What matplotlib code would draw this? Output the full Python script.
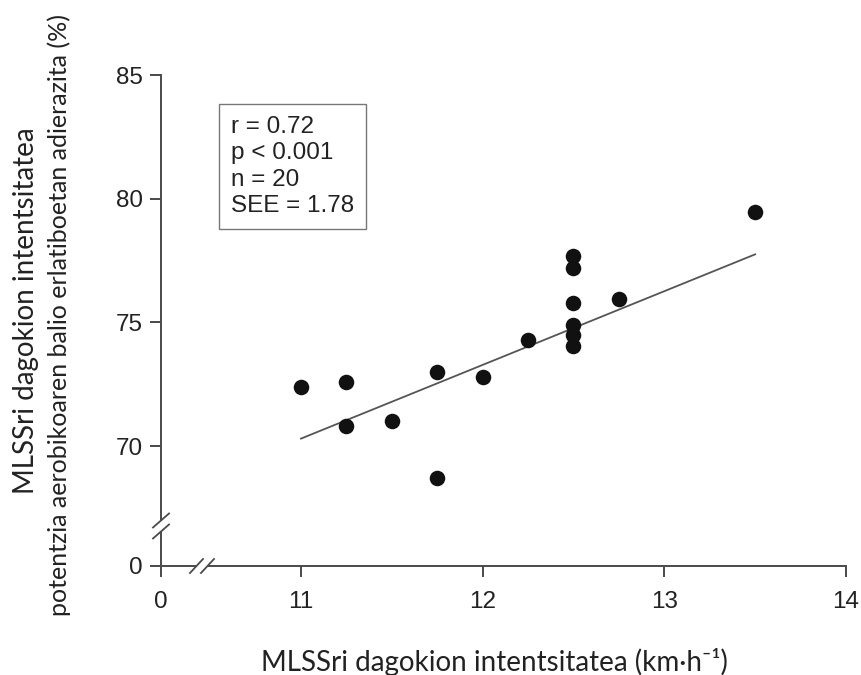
import numpy as np
import matplotlib
matplotlib.use("Agg")
import matplotlib.pyplot as plt

# ---- data ----
speed = [11.0, 11.25, 11.25, 11.5, 11.75, 11.75, 12.0, 12.25,
         12.5, 12.5, 12.5, 12.5, 12.5, 12.5, 12.75, 13.5]
pct = [72.4, 72.6, 70.8, 71.0, 73.0, 68.7, 72.8, 74.3,
       77.7, 77.2, 75.8, 74.9, 74.5, 74.05, 75.95, 79.45]
fit_x = [11.0, 13.5]
fit_y = [70.3, 77.75]
xticks = [0, 11, 12, 13, 14]
yticks = [0, 70, 75, 80, 85]
stats_text = "r = 0.72\np < 0.001\nn = 20\nSEE = 1.78"
xlabel = "MLSSri dagokion intentsitatea (km·h⁻¹)"
ylabel1 = "MLSSri dagokion intentsitatea"
ylabel2 = "potentzia aerobikoaren balio erlatiboetan adierazita (%)"

# ---- broken-axis scales ----
XT, XU = 10.5, 0.2705
def fx(x):
    x = np.asarray(x, float)
    return np.where(x >= XT, x - 11 + 0.7705, x * XU / XT)
def ifx(u):
    u = np.asarray(u, float)
    return np.where(u >= XU, u + 11 - 0.7705, u * XT / XU)

YT, YV = 66.0, 0.85
def fy(y):
    y = np.asarray(y, float)
    return np.where(y >= YT, y - 70 + 4.85, y * YV / YT)
def ify(v):
    v = np.asarray(v, float)
    return np.where(v >= YV, v + 70 - 4.85, v * YT / YV)

plt.rcParams['font.family'] = ['Liberation Sans', 'DejaVu Sans']

fig = plt.figure(figsize=(8.61, 6.75), dpi=100)
ax = fig.add_axes([161/861, 1-566/675, 685/861, 491/675])
ax.set_xscale('function', functions=(fx, ifx))
ax.set_yscale('function', functions=(fy, ify))
ax.set_xlim(0, 14)
ax.set_ylim(0, 85)

spc = '#4a4a4a'
ax.scatter(speed, pct, s=125, color='#111111', zorder=3, linewidths=0)
ax.plot(fit_x, fit_y, color='#555555', lw=1.3, zorder=2)

for s in ['top', 'right']:
    ax.spines[s].set_visible(False)
for s in ['left', 'bottom']:
    ax.spines[s].set_color(spc)
    ax.spines[s].set_linewidth(1.4)

ax.set_xticks(xticks)
ax.set_xticklabels([str(t) for t in xticks])
ax.set_yticks(yticks)
ax.set_yticklabels([str(t) for t in yticks])
ax.minorticks_off()
ax.tick_params(direction='out', length=8, width=1.4, color=spc, pad=5,
               labelsize=17.5, labelcolor='#222222')
ax.tick_params(axis='x', pad=10)

# break marks
W, H = 685.0, 491.0
def brk(cx, cy, horizontal):
    if horizontal:
        gap = 5.5 / W
        ax.plot([cx - gap, cx + gap], [cy, cy], transform=ax.transAxes,
                color='white', lw=3, clip_on=False, zorder=5, solid_capstyle='butt')
        for off in (-gap, gap):
            x0 = cx + off
            ax.plot([x0 - 6.5/W, x0 + 6.5/W], [cy - 7/H, cy + 7/H], transform=ax.transAxes,
                    color=spc, lw=1.3, clip_on=False, zorder=6)
    else:
        gap = 5.5 / H
        ax.plot([cx, cx], [cy - gap, cy + gap], transform=ax.transAxes,
                color='white', lw=3, clip_on=False, zorder=5, solid_capstyle='butt')
        for off in (-gap, gap):
            y0 = cy + off
            ax.plot([cx - 8/W, cx + 8/W], [y0 - 7/H, y0 + 7/H], transform=ax.transAxes,
                    color=spc, lw=1.3, clip_on=False, zorder=6)

brk(41/W, 0.0, True)
brk(0.0, 40/H, False)

ax.text((231-161)/W, 1 - (116-75)/H, stats_text, transform=ax.transAxes,
        size=17.5, color='#222222', va='top', ha='left',
        linespacing=1.26,
        bbox=dict(boxstyle='square,pad=0.5', fc='white', ec='#777777', lw=1.0))

lfont = ['Lato', 'DejaVu Sans']
fig.text(494/861, 1 - 662/675, xlabel, family=lfont, size=20, color='#222222',
         ha='center', va='center')
fig.text(26/861, 1 - 311/675, ylabel1, family=lfont, size=20, color='#222222',
         ha='center', va='center', rotation=90)
fig.text(59/861, 1 - 315/675, ylabel2, family=lfont, size=18, color='#222222',
         ha='center', va='center', rotation=90)

fig.savefig('out.png', dpi=100)
